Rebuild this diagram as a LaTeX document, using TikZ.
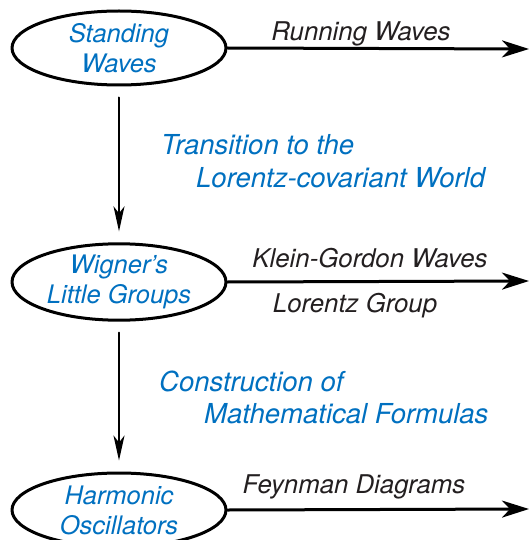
\documentclass[tikz,border=0pt]{standalone}
\usepackage{fontspec}
\setmainfont{TeX Gyre Heros}
\usetikzlibrary{arrows.meta,shapes.geometric,positioning}
\definecolor{stageblue}{RGB}{0,112,192}
\definecolor{labelgray}{RGB}{35,31,32}

\begin{document}
\begin{tikzpicture}[x=1pt, y=-1pt, line cap=round, line join=round]
    \useasboundingbox (0,0) rectangle (530,540);

    \tikzset{
        stage/.style={ellipse, draw=black, line width=3pt, minimum width=214pt, minimum height=74pt, inner sep=0pt, align=center, text=stageblue, font=\fontsize{25.5}{30}\selectfont\itshape},
        flow/.style={-{Stealth[length=27pt,width=17pt,inset=8pt]}, line width=3pt},
        descent/.style={-{Stealth[length=25pt,width=11pt,inset=7pt]}, line width=2pt, shorten <=11pt, shorten >=11pt},
        branch/.style={text=labelgray, font=\fontsize{25.8}{30}\selectfont\itshape, inner sep=0pt, anchor=base},
        remark/.style={text=stageblue, font=\fontsize{27.5}{30}\selectfont\itshape, inner sep=0pt, anchor=base west}
    }

    % Stages
    \node[stage] (SW) at (119,48) {Standing\\Waves};
    \node[stage] (WLG) at (119,282) {Wigner's\\Little Groups};
    \node[stage] (HO) at (119,510) {Harmonic\\Oscillators};

    % Free ends of the side arrows
    \coordinate (SWend) at (529,49);
    \coordinate (WLGend) at (529,281);
    \coordinate (HOend) at (529,509);

    % Side arrows
    \draw[flow] (SW.east) -- (SWend);
    \draw[flow] (WLG.east) -- (WLGend);
    \draw[flow] (HO.east) -- (HOend);

    % Downward arrows
    \draw[descent] (SW) -- (WLG);
    \draw[descent] (WLG) -- (HO);

    % Side labels
    \node[branch] (rw) at (361,41) {Running Waves};
    \node[branch] (kg) at (370,267) {Klein-Gordon Waves};
    \node[branch] (lg) at (355,312) {Lorentz Group};
    \node[branch] (fd) at (354,493) {Feynman Diagrams};

    % Transition remarks
    \node[remark] (tr1) at (161,155) {Transition to the};
    \node[remark] (tr2) at (196,187) {Lorentz-covariant World};
    \node[remark] (cm1) at (159,391) {Construction of};
    \node[remark] (cm2) at (204,423) {Mathematical Formulas};
\end{tikzpicture}
\end{document}
